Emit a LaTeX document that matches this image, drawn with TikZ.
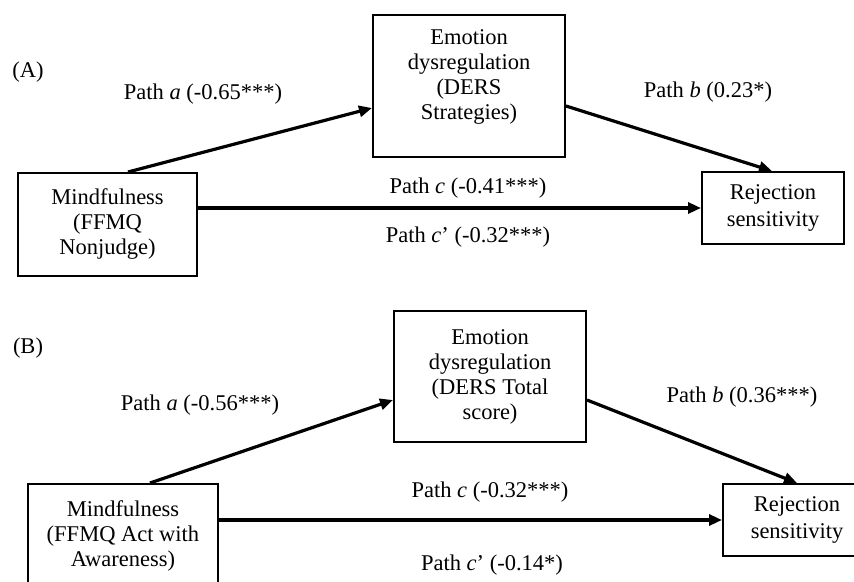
\documentclass[tikz,border=0pt]{standalone}
\usepackage{fontspec}
\setmainfont{Liberation Serif}
\usetikzlibrary{arrows.meta,calc}
\tikzset{
  box/.style={draw, line width=2pt, align=center, inner sep=0pt, font=\fontsize{22.5}{25}\selectfont},
  lbl/.style={inner sep=0pt, font=\fontsize{22.5}{25}\selectfont},
  arr/.style={line width=3.2pt, -{Triangle[length=13pt,width=11pt]}}
}
\begin{document}
\begin{tikzpicture}[x=1pt,y=-1pt]
\clip (0,0) rectangle (854,581);
\fill[white] (0,0) rectangle (854,581);
% Panel A
\node[lbl] (pA) at (28,72) {(A)};
\node[box, minimum width=192pt, minimum height=142pt] (eA) at (469,86) {\raisebox{9pt}[\height][\depth]{\begin{tabular}{@{}c@{}}Emotion\\dysregulation\\(DERS\\Strategies)\end{tabular}}};
\node[box, minimum width=179pt, minimum height=103pt] (mA) at (107.5,224.5) {Mindfulness\\(FFMQ\\Nonjudge)};
\node[box, minimum width=142pt, minimum height=72pt, font=\fontsize{22.5}{27}\selectfont] (rA) at (773,208) {Rejection\\sensitivity};
\draw[arr] ([xshift=20.5pt]mA.north) -- ([yshift=-22pt]eA.west);
\draw[arr] ([yshift=-20pt]eA.east) -- ([xshift=-1pt]rA.north);
\draw[arr] (mA.east |- rA.west) -- (rA.west);
\node[lbl] (laA) at (203,94) {Path \textit{a} (-0.65***)};
\node[lbl] (lbA) at (708,92) {Path \textit{b} (0.23*)};
\node[lbl] (lcA) at (468,188) {Path \textit{c} (-0.41***)};
\node[lbl] (lcpA) at (468,237) {Path \textit{c}’ (-0.32***)};
% Panel B
\node[lbl] (pB) at (28,348) {(B)};
\node[box, minimum width=192pt, minimum height=131pt] (eB) at (490,376.5) {Emotion\\dysregulation\\(DERS Total\\score)};
\node[box, minimum width=190pt, minimum height=103pt] (mB) at (123,535.5) {Mindfulness\\(FFMQ Act with\\Awareness)};
\node[box, minimum width=148pt, minimum height=72pt, font=\fontsize{22.5}{27}\selectfont] (rB) at (797,520) {Rejection\\sensitivity};
\draw[arr] ([xshift=27pt]mB.north) -- ([yshift=-23.5pt]eB.west);
\draw[arr] ([yshift=-23.5pt]eB.east) -- (rB.north);
\draw[arr] (mB.east |- rB.west) -- (rB.west);
\node[lbl] (laB) at (200,405) {Path \textit{a} (-0.56***)};
\node[lbl] (lbB) at (742,397) {Path \textit{b} (0.36***)};
\node[lbl] (lcB) at (490,492) {Path \textit{c} (-0.32***)};
\node[lbl] (lcpB) at (492,565) {Path \textit{c}’ (-0.14*)};
\end{tikzpicture}
\end{document}
